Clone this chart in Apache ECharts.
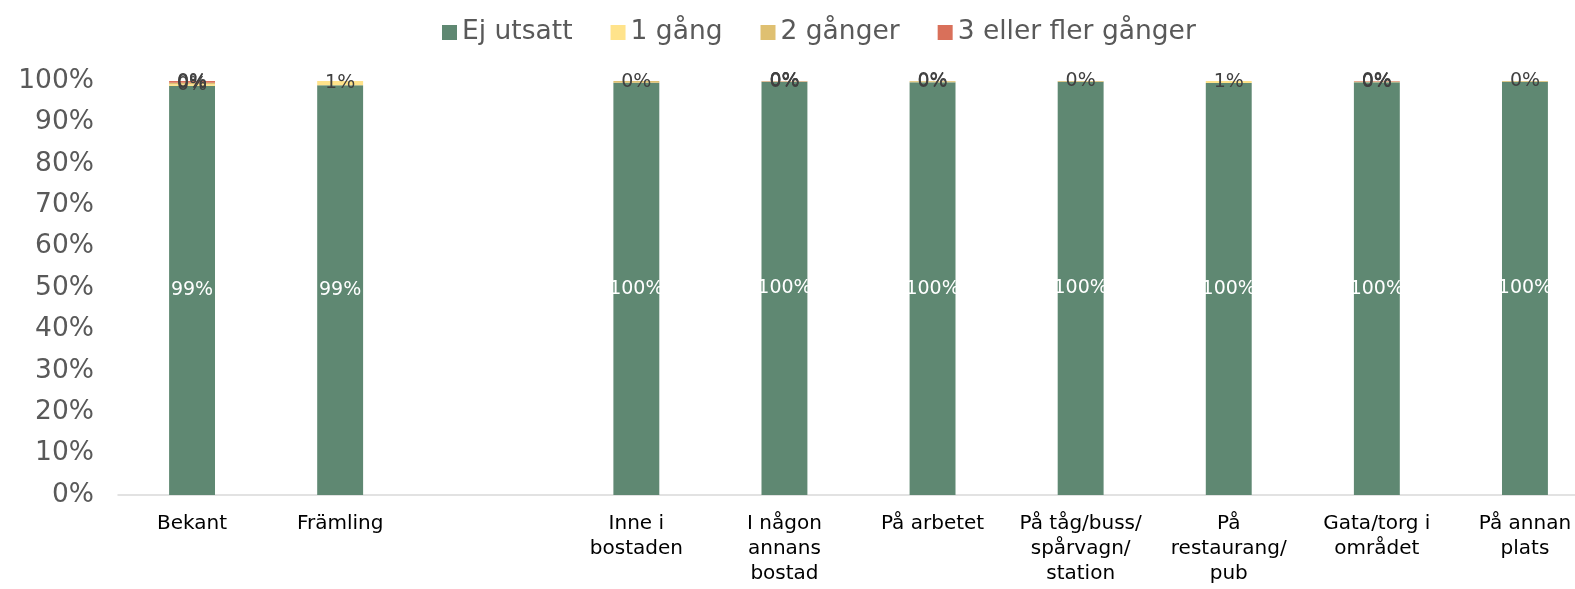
<!DOCTYPE html>
<html><head><meta charset="utf-8">
<script src="https://cdn.jsdelivr.net/npm/echarts@6/dist/echarts.min.js"></script>
<style>html,body{margin:0;padding:0;background:#fff}#c{width:1575px;height:589px}</style>
</head><body><div id="c"></div>
<script>
const categories = ['Bekant','Främling','','Inne i\nbostaden','I någon\nannans\nbostad','På arbetet','På tåg/buss/\nspårvagn/\nstation','På\nrestaurang/\npub','Gata/torg i\nområdet','På annan\nplats'];
const seriesNames = ['Ej utsatt','1 gång','2 gånger','3 eller fler gånger'];
const ejUtsatt = [98.8, 99.0, null, 99.6, 99.8, 99.7, 99.8, 99.5, 99.7, 99.8];
const enGang  = [0.4, 1.0, null, null, 0.1, 0.1, null, 0.5, 0.1, null];
const tvaGanger = [0.4, null, null, 0.4, 0.05, 0.2, 0.2, null, 0.1, 0.2];
const treFler = [0.4, null, null, null, 0.05, null, null, null, 0.1, null];
const yTicks = ['0%','10%','20%','30%','40%','50%','60%','70%','80%','90%','100%'];
const colors = ['#5F8872','#FFE38B','#DFC071','#D9705A'];
const font = 'DejaVu Sans';
const vals = [ejUtsatt, enGang, tvaGanger, treFler];
const chart = echarts.init(document.getElementById('c'), null, {renderer:'canvas'});
chart.setOption({
  animation:false,
  textStyle:{fontFamily:font},
  legend:{top:14,left:437,itemWidth:15,itemHeight:15,itemGap:38,icon:'rect',
    textStyle:{fontSize:26.5,color:'#595959',fontFamily:font},data:seriesNames},
  grid:{left:118,width:1481,top:81,bottom:94,containLabel:false,outerBoundsMode:'none'},
  xAxis:{type:'category',data:categories,axisTick:{show:false},
    axisLine:{lineStyle:{color:'#D9D9D9',width:1.5}},
    axisLabel:{interval:0,fontSize:20,color:'#000',lineHeight:25,margin:16,fontFamily:font}},
  yAxis:{type:'value',min:0,max:100,interval:10,splitLine:{show:false},
    axisLine:{show:false},axisTick:{show:false},
    axisLabel:{fontSize:26.5,color:'#595959',margin:24,fontFamily:font,
      formatter:(v)=>yTicks[Math.round(v/10)]}},
  series: seriesNames.map((n,i)=>({
    name:n,type:'bar',stack:'s',barWidth:'31%',data:vals[i],
    itemStyle:{color:colors[i]},
    label:{show:true,position:'inside',fontSize:19,fontFamily:font,
      color:i===0?'#FFFFFF':'#404040',
      formatter:(p)=>p.value==null?'':Math.round(p.value)+'%'}
  }))
});
</script></body></html>
